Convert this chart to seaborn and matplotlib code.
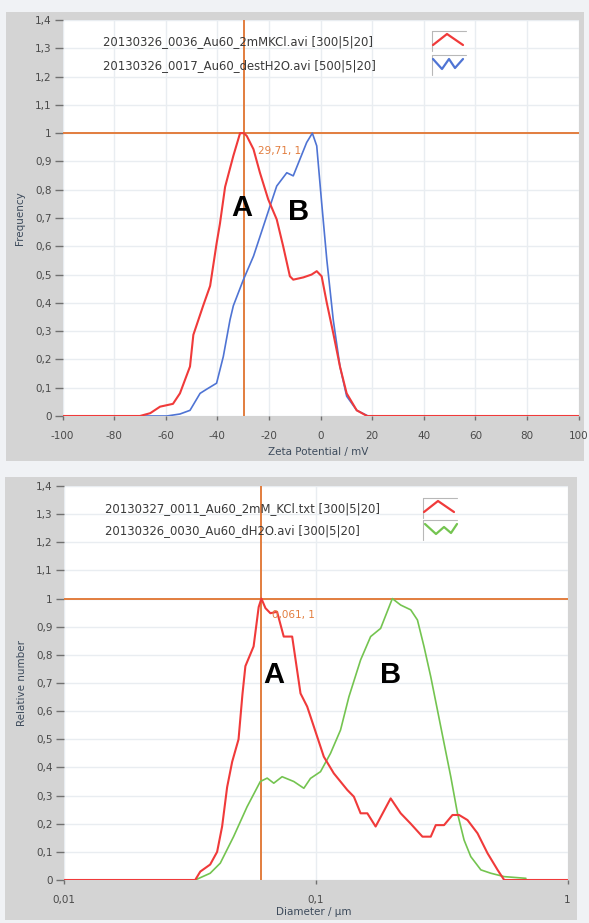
import matplotlib
matplotlib.use("Agg")
import matplotlib.pyplot as plt
from matplotlib.patches import Rectangle
from matplotlib.lines import Line2D
import seaborn as sns
import pandas as pd

# ---------------- data ----------------
# Top chart: zeta potential (mV) vs frequency
zeta_kcl_x = [-100, -70, -66, -62.2, -57.2, -54.5, -50.6, -49.3, -45.5, -42.8, -40.3, -39, -37,
              -33.8, -31.2, -29.7, -28.6, -26, -23.5, -20.3, -17, -14.5, -11.9, -10.6, -6.7, -3.5,
              -1.5, 0.4, 2.4, 4.9, 7.5, 10.1, 14, 18, 100]
zeta_kcl_y = [0, 0, 0.01, 0.033, 0.043, 0.08, 0.175, 0.287, 0.39, 0.46, 0.61, 0.68, 0.81,
              0.92, 1.0, 1.0, 0.99, 0.943, 0.86, 0.766, 0.695, 0.60, 0.494, 0.482, 0.49, 0.5,
              0.512, 0.494, 0.40, 0.293, 0.175, 0.08, 0.02, 0.0, 0.0]
zeta_h2o_x = [-70, -59.6, -54.5, -50.6, -46.7, -44.1, -40.3, -37.7, -35.1, -33.8, -30, -26, -22.2,
              -19.6, -17, -13.1, -10.6, -8, -5.4, -3.2, -1.5, 0.4, 2.4, 4.9, 7.5, 10.1, 14, 18.4]
zeta_h2o_y = [0, 0.0, 0.007, 0.02, 0.08, 0.095, 0.116, 0.21, 0.34, 0.39, 0.48, 0.565, 0.67,
              0.742, 0.813, 0.86, 0.849, 0.908, 0.967, 1.0, 0.955, 0.755, 0.553, 0.34, 0.175, 0.07, 0.02, 0.0]

# Bottom chart: diameter (um) vs relative number
diam_kcl_x = [0.01, 0.0333, 0.0349, 0.0382, 0.0407, 0.0426, 0.0446, 0.0467, 0.0495, 0.0513, 0.0527,
              0.0568, 0.0595, 0.061, 0.0633, 0.0662, 0.0704, 0.0748, 0.0808, 0.0872, 0.0927, 0.0985,
              0.1079, 0.1182, 0.1337, 0.142, 0.151, 0.1606, 0.1732, 0.1987, 0.2178, 0.2387, 0.2657,
              0.2867, 0.3001, 0.3237, 0.3496, 0.3714, 0.401, 0.4395, 0.4816, 0.5278, 0.5607, 1.0]
diam_kcl_y = [0, 0, 0.03, 0.055, 0.10, 0.19, 0.33, 0.42, 0.50, 0.66, 0.76,
              0.83, 0.97, 1.0, 0.966, 0.948, 0.953, 0.865, 0.865, 0.663, 0.616, 0.545,
              0.438, 0.379, 0.32, 0.296, 0.237, 0.237, 0.19, 0.29, 0.237, 0.20, 0.154,
              0.154, 0.195, 0.195, 0.231, 0.231, 0.213, 0.166, 0.095, 0.036, 0.0, 0.0]
diam_h2o_x = [0.0333, 0.0382, 0.0419, 0.0473, 0.0535, 0.0604, 0.0643, 0.0683, 0.0737, 0.082, 0.0899,
              0.0955, 0.1047, 0.1147, 0.1257, 0.1357, 0.151, 0.1655, 0.1813, 0.2018, 0.2178, 0.2387,
              0.2538, 0.2696, 0.2867, 0.3047, 0.3237, 0.3442, 0.3659, 0.3887, 0.4133, 0.4531, 0.4964,
              0.5607, 0.6839]
diam_h2o_y = [0, 0.024, 0.06, 0.154, 0.26, 0.35, 0.362, 0.344, 0.367, 0.35, 0.326,
              0.361, 0.385, 0.45, 0.533, 0.651, 0.782, 0.865, 0.894, 1.0, 0.977, 0.96,
              0.924, 0.829, 0.722, 0.604, 0.486, 0.367, 0.237, 0.142, 0.083, 0.036, 0.024,
              0.012, 0.006]

top_legend = ["20130326_0036_Au60_2mMKCl.avi [300|5|20]", "20130326_0017_Au60_destH2O.avi [500|5|20]"]
bot_legend = ["20130327_0011_Au60_2mM_KCl.txt [300|5|20]", "20130326_0030_Au60_dH2O.avi [300|5|20]"]

top_xticks = [-100, -80, -60, -40, -20, 0, 20, 40, 60, 80, 100]
yticks = [round(0.1 * i, 1) for i in range(15)]
ytick_labels = ["0", "0,1", "0,2", "0,3", "0,4", "0,5", "0,6", "0,7", "0,8", "0,9", "1",
                "1,1", "1,2", "1,3", "1,4"]
bot_xticks = [0.01, 0.1, 1]
bot_xtick_labels = ["0,01", "0,1", "1"]

cursor_top = (-29.71, 1.0)
cursor_bot = (0.061, 1.0)

# ---------------- style ----------------
sns.set_theme(style="white")
plt.rcParams["font.family"] = ["DejaVu Sans"]

RED = "#f03a3a"
BLUE = "#4f74d4"
GREEN = "#74c450"
ORANGE = "#e27d3e"
FRAME = "#d4d4d4"
BG = "#f0f2f5"
GRID = "#e9edf1"
TICKC = "#4a4a4a"
LABC = "#3d4b5c"

W, H = 589, 923
fig = plt.figure(figsize=(W / 100, H / 100), dpi=100)
fig.patch.set_facecolor(BG)


def fx(px):
    return px / W


def fy(py):
    return 1 - py / H


# gray frames drawn in a background axes
bg = fig.add_axes([0, 0, 1, 1], zorder=-5)
bg.set_axis_off()
bg.set_xlim(0, 1)
bg.set_ylim(0, 1)
bg.add_patch(Rectangle((fx(6), fy(461)), 578 / W, 449 / H, facecolor=FRAME, edgecolor="none"))
bg.add_patch(Rectangle((fx(5), fy(920)), 572 / W, 443 / H, facecolor=FRAME, edgecolor="none"))

ax1 = fig.add_axes([fx(62.5), fy(416), 516.2 / W, 396 / H], zorder=1)
ax2 = fig.add_axes([fx(63.5), fy(880), 504 / W, 394 / H], zorder=1)


def style_axes(ax):
    ax.set_facecolor("white")
    for s in ax.spines.values():
        s.set_visible(False)
    ax.set_ylim(0, 1.4)
    ax.set_yticks(yticks)
    ax.set_yticklabels(ytick_labels)
    ax.grid(True, color=GRID, linewidth=1.0)
    ax.tick_params(axis="y", direction="out", length=6, width=1, color="#707070",
                   labelsize=7.5, labelcolor=TICKC, pad=2, left=True)
    ax.tick_params(axis="x", direction="out", length=3, width=1, color="#707070",
                   labelsize=7.5, labelcolor=TICKC, pad=8, bottom=True)


# ---------------- top chart ----------------
style_axes(ax1)
df_t1 = pd.DataFrame({"x": zeta_kcl_x, "y": zeta_kcl_y})
df_t2 = pd.DataFrame({"x": zeta_h2o_x, "y": zeta_h2o_y})
sns.lineplot(data=df_t2, x="x", y="y", ax=ax1, color=BLUE, linewidth=1.2, sort=False, zorder=3)
sns.lineplot(data=df_t1, x="x", y="y", ax=ax1, color=RED, linewidth=1.5, sort=False, zorder=4)
ax1.set_xlim(-100, 100)
ax1.set_xticks(top_xticks)
ax1.set_xticklabels([str(v) for v in top_xticks])
ax1.axvline(cursor_top[0], color=ORANGE, linewidth=1.4, zorder=2)
ax1.axhline(cursor_top[1], color=ORANGE, linewidth=1.4, zorder=2)
ax1.text(-24.3, 0.936, "29,71, 1", color=ORANGE, fontsize=7.5, va="center", ha="left", zorder=5)
ax1.text(-30.45, 0.734, "A", fontsize=21, fontweight="bold", family="Liberation Sans",
         ha="center", va="center", color="black", zorder=6)
ax1.text(-8.4, 0.72, "B", fontsize=21, fontweight="bold", family="Liberation Sans",
         ha="center", va="center", color="black", zorder=6)
ax1.set_xlabel("Zeta Potential / mV", fontsize=7.5, color=LABC)
ax1.set_ylabel("Frequency", fontsize=7.5, color=LABC)
ax1.xaxis.set_label_coords((318.5 - 62.5) / 516.2, -(447 - 416) / 396)
ax1.yaxis.set_label_coords(-(62.5 - 25) / 516.2, 0.5)

# ---------------- bottom chart ----------------
style_axes(ax2)
df_b1 = pd.DataFrame({"x": diam_kcl_x, "y": diam_kcl_y})
df_b2 = pd.DataFrame({"x": diam_h2o_x, "y": diam_h2o_y})
sns.lineplot(data=df_b2, x="x", y="y", ax=ax2, color=GREEN, linewidth=1.2, sort=False, zorder=3)
sns.lineplot(data=df_b1, x="x", y="y", ax=ax2, color=RED, linewidth=1.5, sort=False, zorder=4)
ax2.set_xscale("log")
ax2.set_xlim(0.01, 1)
ax2.set_xticks(bot_xticks)
ax2.set_xticklabels(bot_xtick_labels)
ax2.xaxis.set_minor_locator(matplotlib.ticker.NullLocator())
ax2.axvline(cursor_bot[0], color=ORANGE, linewidth=1.4, zorder=2)
ax2.axhline(cursor_bot[1], color=ORANGE, linewidth=1.4, zorder=2)
ax2.text(0.0672, 0.942, "0,061, 1", color=ORANGE, fontsize=7.5, va="center", ha="left", zorder=5)
ax2.text(0.0683, 0.728, "A", fontsize=21, fontweight="bold", family="Liberation Sans",
         ha="center", va="center", color="black", zorder=6)
ax2.text(0.1987, 0.728, "B", fontsize=21, fontweight="bold", family="Liberation Sans",
         ha="center", va="center", color="black", zorder=6)
ax2.set_xlabel("Diameter / µm", fontsize=7.5, color=LABC)
ax2.set_ylabel("Relative number", fontsize=7.5, color=LABC)
ax2.xaxis.set_label_coords((314 - 63.5) / 504, -(907 - 880) / 394)
ax2.yaxis.set_label_coords(-(63.5 - 27) / 504, 0.5)


# ---------------- legends (text + icons in pixel space) ----------------
def legend(labels, x_text, ys, box_x, icon_shapes, colors):
    for lab, yy, shape, col in zip(labels, ys, icon_shapes, colors):
        fig.text(fx(x_text), fy(yy), lab, fontsize=8.4, color="#3a3a3a", va="center", ha="left",
                 zorder=10)
        top = yy - 11
        for xs, ys_ in (([box_x, box_x + 34], [top, top]), ([box_x, box_x], [top, top + 20])):
            fig.add_artist(Line2D([fx(v) for v in xs], [fy(v) for v in ys_],
                                  transform=fig.transFigure, color="#b8b8b8", lw=0.8, zorder=10))
        fig.add_artist(Line2D([fx(box_x + dx) for dx, _ in shape], [fy(top + dy) for _, dy in shape],
                              transform=fig.transFigure, color=col, lw=1.6, zorder=10))


shape_peak = [(1, 14), (15, 3), (31, 14)]
shape_zig = [(1, 4), (10, 14), (17, 4), (23, 13), (31, 4)]
shape_zig2 = [(2, 4), (13, 14), (21, 7), (28, 13), (34, 4)]
legend(top_legend, 103, [42, 66], 432, [shape_peak, shape_zig], [RED, BLUE])
legend(bot_legend, 105, [509, 531], 423, [shape_peak, shape_zig2], [RED, GREEN])

fig.savefig("out.png", dpi=100, facecolor=fig.get_facecolor())
